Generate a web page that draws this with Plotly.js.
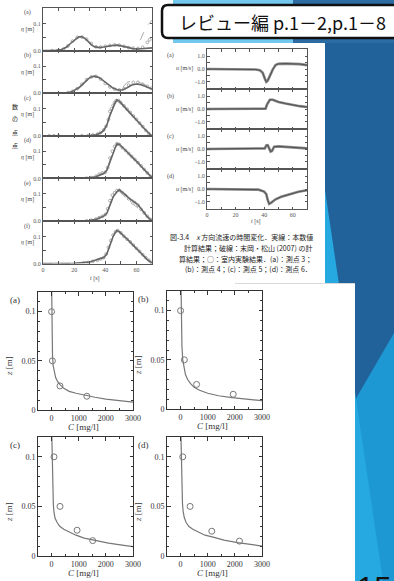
<!DOCTYPE html>
<html><head><meta charset="utf-8">
<script src="https://cdn.plot.ly/plotly-3.0.1.min.js"></script>
<style>html,body{margin:0;padding:0;background:#fff;overflow:hidden}#chart{width:394px;height:581px}</style>
</head><body><div id="chart"></div><script>
// ---------- DATA ----------
// η time series (left figure), panels (a)-(f)
const tAB   = [0,4,8,12,15,18,21,23,25,27,29,31,33,36,39,42,45,48,51,54,57,60,63,66,70];
const numA  = [0,0,0.001,0.004,0.012,0.028,0.044,0.051,0.051,0.045,0.034,0.022,0.014,0.011,0.013,0.017,0.019,0.02,0.017,0.012,0.008,0.006,0.007,0.009,0.01];
const dashA = [0,0,0.001,0.005,0.014,0.03,0.045,0.05,0.049,0.042,0.031,0.02,0.014,0.013,0.015,0.018,0.02,0.021,0.018,0.013,0.011,0.02,0.045,0.085,0.112];
const numB  = [0,0,0,0,0.001,0.004,0.012,0.02,0.03,0.042,0.053,0.06,0.063,0.058,0.045,0.03,0.019,0.012,0.012,0.02,0.03,0.034,0.031,0.025,0.015];
const dashB = [0,0,0,0,0.001,0.005,0.014,0.022,0.032,0.044,0.054,0.06,0.062,0.056,0.043,0.028,0.018,0.013,0.02,0.04,0.046,0.044,0.038,0.03,0.02];
const tCF   = [0,10,20,30,34,37,39,41,43,45,46.5,47.5,49,51,53,55,57,59,61,63,65,67,69,70];
const numC  = [0,0,0,0.001,0.004,0.01,0.02,0.04,0.075,0.108,0.125,0.132,0.128,0.115,0.103,0.09,0.078,0.066,0.053,0.04,0.027,0.014,0.004,0.001];
const dashC = [0,0,0,0.001,0.005,0.012,0.022,0.045,0.08,0.11,0.122,0.127,0.123,0.111,0.099,0.087,0.075,0.063,0.05,0.038,0.026,0.014,0.005,0.002];
const numD  = [0,0,0,0.002,0.006,0.012,0.018,0.03,0.062,0.097,0.115,0.127,0.126,0.115,0.104,0.093,0.081,0.069,0.057,0.045,0.033,0.02,0.008,0.003];
const dashD = [0,0,0,0.002,0.007,0.014,0.021,0.034,0.066,0.099,0.114,0.122,0.121,0.111,0.1,0.089,0.078,0.066,0.054,0.042,0.03,0.018,0.007,0.003];
const numE  = [0,0,0,0.002,0.006,0.012,0.018,0.028,0.055,0.088,0.1,0.108,0.115,0.107,0.096,0.085,0.076,0.07,0.06,0.045,0.03,0.016,0.005,0.002];
const dashE = [0,0,0,0.002,0.007,0.013,0.02,0.032,0.06,0.09,0.1,0.106,0.11,0.1,0.088,0.075,0.064,0.057,0.049,0.038,0.026,0.014,0.005,0.002];
const numF  = [0,0,0.001,0.006,0.012,0.018,0.022,0.035,0.07,0.1,0.115,0.122,0.118,0.108,0.097,0.085,0.073,0.061,0.049,0.037,0.026,0.015,0.006,0.002];
const dashF = [0,0,0.001,0.007,0.014,0.02,0.025,0.04,0.075,0.102,0.114,0.119,0.115,0.105,0.094,0.082,0.07,0.058,0.046,0.035,0.024,0.014,0.005,0.002];
// experiment circles
const expA_t = [6,10,13,16,19,22,25,28,31,34,37,40,43,46,49,52,55,58,61,64,67,68.5];
const expA   = [0,0.001,0.005,0.017,0.035,0.049,0.05,0.042,0.026,0.014,0.013,0.016,0.019,0.021,0.02,0.016,0.011,0.008,0.008,0.012,0.03,0.04];
const expB_t = [16,19,22,25,28,31,34,37,40,43,46,49,52,55,58,61,64,67,69.5];
const expB   = [0.002,0.007,0.017,0.033,0.05,0.06,0.062,0.052,0.036,0.023,0.015,0.012,0.017,0.03,0.04,0.04,0.033,0.025,0.018];
const expC_t = [4,7,10,25,29,32,35,37,39,40.5,42,43,44,45,46,47,48.5,50,52,54,56,58,60,62,64,66,68];
const expC   = [0,0,0,0,0.001,0.003,0.006,0.012,0.022,0.035,0.06,0.09,0.1,0.112,0.122,0.13,0.13,0.122,0.11,0.098,0.086,0.073,0.061,0.047,0.034,0.02,0.008];
const expD_t = [28,31,34,36,38,40,41.5,43,44.5,46,47.5,49,51,53,55,57,59,61,63,65,67,69];
const expD   = [0.001,0.003,0.008,0.015,0.02,0.022,0.04,0.075,0.1,0.118,0.128,0.125,0.113,0.103,0.092,0.081,0.07,0.058,0.046,0.033,0.02,0.008];
const expE_t = [28,31,34,36,38,40,41.5,43,44.5,46,47.5,49,51,53,55,57,59,61,63,65,67,69];
const expE   = [0.001,0.003,0.007,0.012,0.017,0.024,0.045,0.075,0.095,0.104,0.112,0.113,0.104,0.094,0.082,0.074,0.068,0.058,0.043,0.03,0.017,0.006];
const expF_t = [26,29,32,35,37,39,40.5,42,43.5,45,46.5,48,50,52,54,56,58,60,62,64,66,68,69.5];
const expF   = [0.002,0.004,0.008,0.012,0.017,0.022,0.035,0.06,0.085,0.105,0.117,0.122,0.113,0.1,0.09,0.08,0.068,0.056,0.045,0.033,0.022,0.012,0.004];
// u time series (middle figure), panels (a)-(d)
const uA_t = [0,10,20,30,34,37,39,40.5,41.5,42.5,44,46,48,50,55,60,65,70];
const uA   = [0,0,0,0,-0.04,-0.1,-0.3,-0.75,-1.0,-0.9,-0.5,-0.05,0.3,0.4,0.42,0.42,0.38,0.3];
const uB_t = [0,10,20,30,38,41,42,43,44,46,48,50,55,60,65,70];
const uB   = [0,0,0,0,0,0.02,0.35,0.6,0.72,0.72,0.62,0.55,0.42,0.3,0.22,0.15];
const uC_t = [0,10,20,30,38,40.5,41.5,42.5,43.5,44.5,45.5,47,50,55,60,65,70];
const uC   = [0,0,0,0,0,0.05,0.28,0.3,0.05,-0.2,-0.15,0.18,0.2,0.15,0.12,0.08,0.05];
const uD_t = [0,10,20,30,36,40,41.5,42.5,43.5,45,48,52,58,64,70];
const uD   = [0,0,0,-0.02,-0.05,-0.2,-0.4,-0.85,-1.15,-1.05,-0.8,-0.6,-0.4,-0.22,-0.1];
// z vs C (bottom figure), panels (a)-(d)
const curA_C = [5,8,12,20,35,60,100,150,220,300,450,650,900,1200,1600,2000,2500,3000];
const curA_z = [0.12,0.1,0.085,0.068,0.055,0.045,0.038,0.033,0.029,0.026,0.022,0.019,0.017,0.015,0.013,0.011,0.0095,0.008];
const curB_C = [20,25,35,50,80,120,180,260,360,500,700,1000,1400,1900,2400,3000];
const curB_z = [0.12,0.1,0.08,0.064,0.05,0.042,0.035,0.03,0.026,0.022,0.019,0.016,0.0135,0.0115,0.01,0.0085];
const curC_C = [10,20,35,50,65,90,130,200,300,450,650,900,1200,1600,2100,2600,3000];
const curC_z = [0.12,0.1,0.08,0.062,0.052,0.044,0.038,0.034,0.03,0.027,0.024,0.021,0.018,0.0155,0.013,0.011,0.0095];
const curD_C = [15,25,40,55,70,95,135,200,300,450,650,900,1200,1600,2100,2600,3000];
const curD_z = [0.12,0.1,0.08,0.063,0.053,0.045,0.039,0.034,0.03,0.027,0.024,0.021,0.019,0.016,0.0135,0.0115,0.01];
const cirA_C = [0,30,310,1300];   const cirA_z = [0.1,0.05,0.0245,0.014];
const cirB_C = [0,140,590,1940];  const cirB_z = [0.1,0.05,0.025,0.015];
const cirC_C = [90,310,940,1515]; const cirC_z = [0.1,0.05,0.026,0.0155];
const cirD_C = [80,350,1150,2170];const cirD_z = [0.1,0.05,0.025,0.015];
const panelLabels = ['(a)','(b)','(c)','(d)','(e)','(f)'];

// ---------- LAYOUT HELPERS ----------
const W=394,H=581;
const X=x=>x/W, Y=y=>1-y/H;
const traces=[];
const layout={width:W,height:H,margin:{l:0,r:0,t:0,b:0},paper_bgcolor:'#ffffff',plot_bgcolor:'rgba(0,0,0,0)',
  showlegend:false,shapes:[],annotations:[],font:{family:'Liberation Serif',color:'#444'}};
const base={showline:true,mirror:'ticks',linecolor:'#555',linewidth:1,ticks:'inside',ticklen:2.5,tickwidth:1,
  tickcolor:'#555',showgrid:false,zeroline:false,fixedrange:true};
let n=0;
function axes(x0,x1,yT,yB,xo,yo){
  n++; const s=n===1?'':String(n);
  layout['xaxis'+s]=Object.assign({domain:[X(x0),X(x1)],anchor:'y'+s},base,xo);
  layout['yaxis'+s]=Object.assign({domain:[Y(yB),Y(yT)],anchor:'x'+s},base,yo);
  return ['x'+s,'y'+s];
}
function ann(text,x,y,size,o){layout.annotations.push(Object.assign({text:text,x:X(x),y:Y(y),xref:'paper',yref:'paper',
  showarrow:false,xanchor:'center',yanchor:'middle',font:{size:size,color:'#333',family:'Liberation Serif'}},o||{}));}
function poly(pts,color){layout.shapes.push({type:'path',xref:'paper',yref:'paper',layer:'below',line:{width:0},fillcolor:color,
  path:'M '+pts.map(p=>X(p[0])+','+Y(p[1])).join(' L ')+' Z'});}

// ---------- BACKGROUND ----------
poly([[173,0],[300,0],[300,43],[173,43]],'#72C8EE');
poly([[293,0],[394,0],[394,43],[293,43]],'#2C6CA2');
poly([[325,43],[394,43],[394,581],[325,581]],'#22629A');
poly([[394,333],[394,581],[250,581]],'#1D98D2');
poly([[325,190],[325,581],[383,581]],'#26A8E0');
poly([[0,283],[355,283],[355,581],[0,581]],'#ffffff');
layout.shapes.push({type:'line',xref:'paper',yref:'paper',layer:'below',x0:X(235),x1:X(355),y0:Y(283.5),y1:Y(283.5),line:{color:'#d8d8d8',width:1}});
// title box
(function(){const x0=162,y0=5,x1=402,y1=38,r=6;
 layout.shapes.push({type:'path',xref:'paper',yref:'paper',layer:'above',fillcolor:'#ffffff',line:{color:'#111',width:2.5},
  path:`M ${X(x0+r)},${Y(y0)} L ${X(x1)},${Y(y0)} L ${X(x1)},${Y(y1)} L ${X(x0+r)},${Y(y1)} Q ${X(x0)},${Y(y1)} ${X(x0)},${Y(y1-r)} L ${X(x0)},${Y(y0+r)} Q ${X(x0)},${Y(y0)} ${X(x0+r)},${Y(y0)} Z`});})();
ann('レビュー編 p.1－2,p.1－8',177,22,18,{xanchor:'left',font:{size:18,color:'#111',family:'Noto Sans CJK JP'}});
ann('15',355,569,31,{xanchor:'left',yanchor:'top',font:{size:31,color:'#111',family:'Liberation Sans'}});
['数','の','点','点'].forEach((c,i)=>ann(c,15,[107,118,132,145][i],6,{font:{size:6,color:'#222',family:'Noto Sans CJK JP'}}));

// ---------- LEFT: η panels ----------
const tickF={family:'Liberation Serif',size:6,color:'#555'};
const etaSets=[[tAB,numA,dashA,expA_t,expA],[tAB,numB,dashB,expB_t,expB],[tCF,numC,dashC,expC_t,expC],
  [tCF,numD,dashD,expD_t,expD],[tCF,numE,dashE,expE_t,expE],[tCF,numF,dashF,expF_t,expF]];
etaSets.forEach((s,i)=>{
  const top=8+42.6*i, bot=top+42.6, last=i===5;
  const [xa,ya]=axes(43,152,top,bot,
    {range:[0,70],tickvals:[0,10,20,30,40,50,60,70],ticktext:['0','','20','','40','','60',''],showticklabels:last,tickfont:tickF},
    {range:[0,0.157],tickvals:[0,0.05,0.1],ticktext:['0.0','','0.1'],tickfont:tickF});
  traces.push({x:s[3],y:s[4],xaxis:xa,yaxis:ya,mode:'markers',marker:{symbol:'circle-open',size:2.8,color:'#999',line:{width:0.8}},hoverinfo:'skip'});
  traces.push({x:s[0],y:s[2],xaxis:xa,yaxis:ya,mode:'lines',line:{color:'#aaa',width:1,dash:'dash'},hoverinfo:'skip'});
  traces.push({x:s[0],y:s[1],xaxis:xa,yaxis:ya,mode:'lines',line:{color:'#666',width:1.6},hoverinfo:'skip'});
  ann(panelLabels[i],27,top+5,6,{font:{size:6,color:'#444',family:'Liberation Serif'}});
  ann('<i>η</i> [m]',27,top+21.5,6,{font:{size:6,color:'#444',family:'Liberation Serif'}});
});
ann('<i>t</i> [s]',95,278,6,{font:{size:6,color:'#444',family:'Liberation Serif'}});

// ---------- MIDDLE: u panels ----------
const uSets=[[uA_t,uA],[uB_t,uB],[uC_t,uC],[uD_t,uD]];
uSets.forEach((s,i)=>{
  const top=49+40*i, bot=top+40, last=i===3;
  const [xa,ya]=axes(207,307,top,bot,
    {range:[0,70],tickvals:[0,10,20,30,40,50,60,70],ticktext:['0','','20','','40','','60',''],showticklabels:last,tickfont:tickF},
    {range:[-1.55,1.55],tickvals:[-1,-0.5,0,0.5,1],ticktext:['-1.0','','0.0','','1.0'],tickfont:tickF});
  traces.push({x:s[0],y:s[1],xaxis:xa,yaxis:ya,mode:'lines',line:{color:'#888',width:2.6},hoverinfo:'skip'});
  traces.push({x:s[0],y:s[1],xaxis:xa,yaxis:ya,mode:'lines',line:{color:'#444',width:0.8},hoverinfo:'skip'});
  ann(panelLabels[i],170,top+7,6,{font:{size:6,color:'#444',family:'Liberation Serif'}});
  ann('<i>u</i> [m/s]',184,top+20,6,{font:{size:6,color:'#444',family:'Liberation Serif'}});
});
ann('<i>t</i> [s]',256,222,6,{font:{size:6,color:'#444',family:'Liberation Serif'}});
const capF={size:7,color:'#222',family:'Noto Sans CJK JP'};
ann('図-3.4　<i>x</i> 方向流速の時間変化．実線：本数値',168,237,7,{xanchor:'left',font:capF});
ann('計算結果；破線：末岡・松山 (2007) の計',314,248,7,{xanchor:'right',font:capF});
ann('算結果；○：室内実験結果．(a)：測点 3；',314,259,7,{xanchor:'right',font:capF});
ann('(b)：測点 4；(c)：測点 5；(d)：測点 6．',314,269,7,{xanchor:'right',font:capF});

// ---------- BOTTOM: z vs C panels ----------
const cF={family:'Liberation Serif',size:8,color:'#333'};
const cSets=[[curA_C,curA_z,cirA_C,cirA_z,38,133,292,410],[curB_C,curB_z,cirB_C,cirB_z,167,262,291,409],
  [curC_C,curC_z,cirC_C,cirC_z,38,133,437,556],[curD_C,curD_z,cirD_C,cirD_z,167,262,437,556]];
cSets.forEach((s,i)=>{
  const cb=Object.assign({},base,{linecolor:'#333',tickcolor:'#333',ticklen:3.5});
  const [xa,ya]=axes(s[4],s[5],s[6],s[7],
    Object.assign({},cb,{range:[-500,3000],tickvals:[0,1000,2000,3000],tickfont:cF,minor:{ticks:'inside',ticklen:2,dtick:500,tick0:0,tickcolor:'#333'}}),
    Object.assign({},cb,{range:[0,0.12],tickvals:[0,0.05,0.1],ticktext:['0','0.05','0.1'],tickfont:cF,minor:{ticks:'inside',ticklen:2,dtick:0.01,tick0:0,tickcolor:'#333'}}));
  traces.push({x:s[0],y:s[1],xaxis:xa,yaxis:ya,mode:'lines',line:{color:'#777',width:1.2},hoverinfo:'skip'});
  traces.push({x:s[2],y:s[3],xaxis:xa,yaxis:ya,mode:'markers',marker:{symbol:'circle-open',size:6,color:'#777',line:{width:1}},hoverinfo:'skip'});
  const cx=(s[4]+s[5])/2;
  ann('<i>C</i> [mg/l]',cx-2,s[7]+17,9,{font:{size:9,color:'#333',family:'Liberation Serif'}});
  ann('<i>z</i> [m]',s[4]-29,s[7]-44,9,{textangle:-90,font:{size:9,color:'#333',family:'Liberation Serif'}});
  ann(['(a)','(b)','(c)','(d)'][i],s[4]-23+(i%2?-1:0),s[6]+8,9,{font:{size:9,color:'#333',family:'Liberation Serif'}});
});

Plotly.newPlot('chart',traces,layout,{staticPlot:true,displayModeBar:false});
</script></body></html>
